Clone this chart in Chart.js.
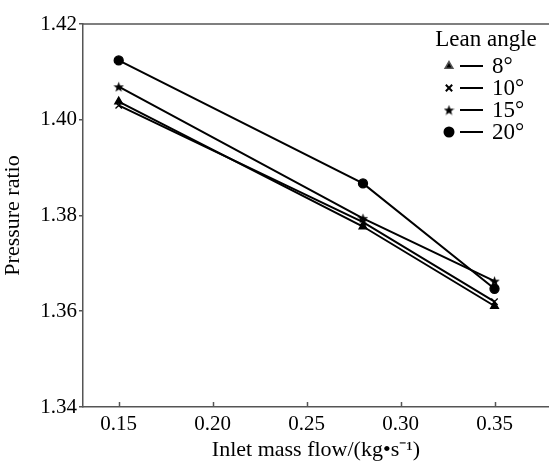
<!DOCTYPE html>
<html>
<head>
<meta charset="utf-8">
<script src="https://cdn.jsdelivr.net/npm/chart.js@4"></script>
<style>
  body { margin: 0; background: #fff; }
  canvas { display: block; }
</style>
</head>
<body>
<canvas id="myChart" width="549" height="463"></canvas>
<script>
// data
const massFlow = [0.15, 0.28, 0.35];
const angleLabels = ['8°', '10°', '15°', '20°'];
const ratio8 = [1.4038, 1.3777, 1.3611];
const ratio10 = [1.4030, 1.3786, 1.3620];
const ratio15 = [1.4069, 1.3794, 1.3663];
const ratio20 = [1.4124, 1.3867, 1.3647];
const xTicks = [0.15, 0.20, 0.25, 0.30, 0.35];
const yTicks = [1.34, 1.36, 1.38, 1.40, 1.42];

const FONT = "'Liberation Serif', 'Times New Roman', serif";
const AXIS = '#555';

// filled five point star for the 15° series
function makeStar(size) {
  const c = document.createElement('canvas');
  c.width = size;
  c.height = size;
  const g = c.getContext('2d');
  const cx = size / 2, cy = size / 2 + 0.5;
  const R = size / 2, r = R * 0.42;
  g.beginPath();
  for (let i = 0; i < 10; i++) {
    const rad = i % 2 === 0 ? R : r;
    const a = -Math.PI / 2 + i * Math.PI / 5;
    g.lineTo(cx + rad * Math.cos(a), cy + rad * Math.sin(a));
  }
  g.closePath();
  g.fillStyle = '#000';
  g.fill();
  return c;
}
const starImg = makeStar(11);

const seriesValues = [ratio8, ratio10, ratio15, ratio20];
const markers = ['triangle', 'crossRot', starImg, 'circle'];
const markerSize = [4.5, 4.5, 5, 4.5];

const datasets = seriesValues.map((vals, i) => ({
  label: angleLabels[i],
  data: massFlow.map((x, j) => ({ x: x, y: vals[j] })),
  borderColor: '#000',
  backgroundColor: '#000',
  borderWidth: 2,
  pointStyle: markers[i],
  pointRadius: markerSize[i],
  pointBorderWidth: 1.3,
  tension: 0,
}));

// legend with marker + short dash + label, and frame details
const extras = {
  id: 'extras',
  afterDraw(chart) {
    const ctx = chart.ctx;
    const area = chart.chartArea;
    const xs = chart.scales.x;

    ctx.save();
    // top frame line
    ctx.strokeStyle = AXIS;
    ctx.lineWidth = 1.5;
    ctx.beginPath();
    ctx.moveTo(area.left, area.top);
    ctx.lineTo(area.right, area.top);
    ctx.stroke();

    // x ticks pointing into the plot
    xTicks.forEach(v => {
      const px = Math.round(xs.getPixelForValue(v)) + 0.5;
      ctx.beginPath();
      ctx.moveTo(px, area.bottom);
      ctx.lineTo(px, area.bottom - 5);
      ctx.stroke();
    });

    // legend
    ctx.fillStyle = '#000';
    ctx.font = '23px ' + FONT;
    ctx.textBaseline = 'middle';
    ctx.textAlign = 'center';
    ctx.fillText('Lean angle', 486, 40);
    ctx.textAlign = 'left';
    chart.data.datasets.forEach((ds, i) => {
      const y = 66 + i * 22;
      Chart.helpers.drawPoint(ctx, {
        pointStyle: ds.pointStyle,
        radius: ds.pointRadius,
        borderWidth: 1.3,
        rotation: 0,
      }, 449, y);
      ctx.strokeStyle = '#000';
      ctx.lineWidth = 2;
      ctx.beginPath();
      ctx.moveTo(460, y);
      ctx.lineTo(483, y);
      ctx.stroke();
      ctx.fillStyle = '#000';
      ctx.fillText(ds.label, 492, y + 1);
    });
    ctx.restore();
  },
};

const myChart = new Chart(document.getElementById('myChart').getContext('2d'), {
  type: 'line',
  data: { datasets: datasets },
  options: {
    responsive: false,
    animation: false,
    layout: { autoPadding: false, padding: { top: 24, left: 0, right: 0, bottom: 0 } },
    scales: {
      x: {
        type: 'linear',
        min: 0.131,
        max: 0.379,
        afterBuildTicks(scale) {
          scale.ticks = xTicks.map(v => ({ value: v }));
        },
        afterFit(scale) {
          scale.height = 56;
          scale.paddingLeft = 0;
          scale.paddingRight = 0;
        },
        ticks: {
          color: '#000',
          font: { family: FONT, size: 21 },
          padding: 5,
          maxRotation: 0,
          callback: v => v.toFixed(2),
        },
        grid: { drawOnChartArea: false, drawTicks: false },
        border: { display: true, color: AXIS, width: 1.5 },
        title: {
          display: true,
          text: 'Inlet mass flow/(kg•s⁻¹)',
          color: '#000',
          font: { family: FONT, size: 22 },
          padding: { top: 0, bottom: 0 },
        },
      },
      y: {
        min: 1.34,
        max: 1.42,
        afterBuildTicks(scale) {
          scale.ticks = yTicks.map(v => ({ value: v }));
        },
        afterFit(scale) {
          scale.width = 83;
          scale.paddingTop = 0;
          scale.paddingBottom = 0;
        },
        ticks: {
          color: '#000',
          font: { family: FONT, size: 21 },
          padding: 2,
          callback: v => v.toFixed(2),
        },
        grid: { drawOnChartArea: false, drawTicks: true, tickLength: 4, color: AXIS, lineWidth: 1.5 },
        border: { display: true, color: AXIS, width: 1.5 },
        title: {
          display: true,
          text: 'Pressure ratio',
          color: '#000',
          font: { family: FONT, size: 22 },
          padding: { top: 0, bottom: 4 },
        },
      },
    },
    plugins: {
      legend: { display: false },
      tooltip: { enabled: false },
    },
  },
  plugins: [extras],
});
</script>
</body>
</html>
